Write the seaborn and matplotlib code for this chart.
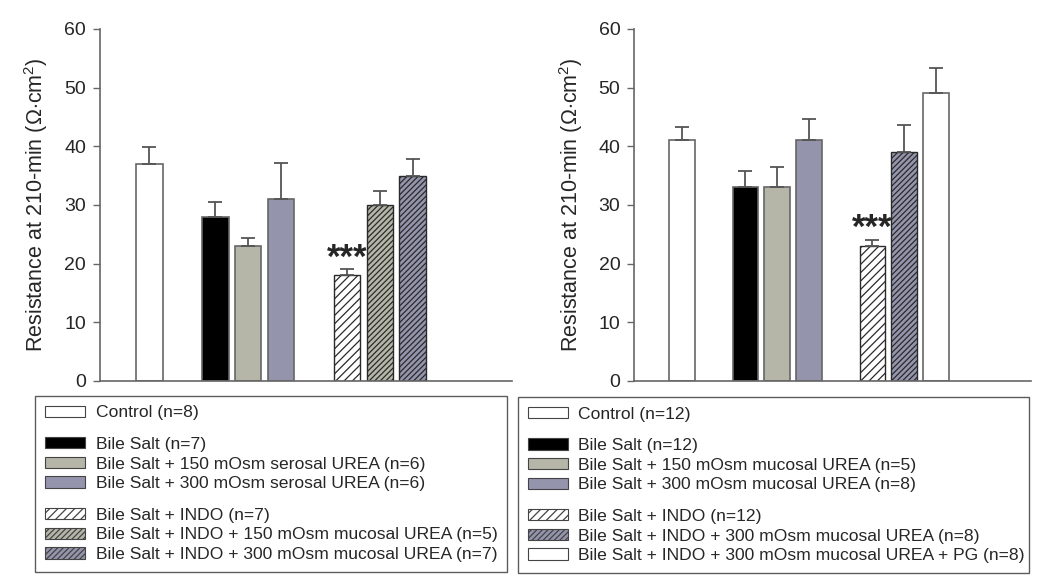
import matplotlib
matplotlib.use("Agg")
import matplotlib.pyplot as plt
from matplotlib.patches import Patch
import seaborn as sns
import pandas as pd

# --- data ---
pos = [0, 2, 3, 4, 6, 7, 8]

left_labels = ["Control (n=8)", "Bile Salt (n=7)",
               "Bile Salt + 150 mOsm serosal UREA (n=6)",
               "Bile Salt + 300 mOsm serosal UREA (n=6)",
               "Bile Salt + INDO (n=7)",
               "Bile Salt + INDO + 150 mOsm mucosal UREA (n=5)",
               "Bile Salt + INDO + 300 mOsm mucosal UREA (n=7)"]
left_vals = [37, 28, 23, 31, 18, 30, 35]
left_err = [2.9, 2.5, 1.4, 6.1, 1.0, 2.4, 2.9]

right_labels = ["Control (n=12)", "Bile Salt (n=12)",
                "Bile Salt + 150 mOsm mucosal UREA (n=5)",
                "Bile Salt + 300 mOsm mucosal UREA (n=8)",
                "Bile Salt + INDO (n=12)",
                "Bile Salt + INDO + 300 mOsm mucosal UREA (n=8)",
                "Bile Salt + INDO + 300 mOsm mucosal UREA + PG (n=8)"]
right_vals = [41, 33, 33, 41, 23, 39, 49]
right_err = [2.3, 2.8, 3.5, 3.6, 1.1, 4.7, 4.4]

WHITE, BLACK, GRAY, PURPLE = "#ffffff", "#000000", "#b5b6a8", "#9495ad"
left_colors = [WHITE, BLACK, GRAY, PURPLE, WHITE, GRAY, PURPLE]
left_hatch = [None, None, None, None, "////", "//////", "//////"]
right_colors = [WHITE, BLACK, GRAY, PURPLE, WHITE, PURPLE, WHITE]
right_hatch = [None, None, None, None, "////", "//////", None]

star_idx = 4

sns.set_style("white")
plt.rcParams['font.family'] = ['Liberation Sans', 'DejaVu Sans']
plt.rcParams['mathtext.fontset'] = 'custom'
plt.rcParams['mathtext.rm'] = 'Liberation Sans'
plt.rcParams['hatch.linewidth'] = 0.9

EDGE = "#666666"
fig = plt.figure(figsize=(10.5, 5.87), dpi=100)


def draw_panel(rect, vals, err, colors, hatches, labels, leg_box):
    ax = fig.add_axes(rect)
    df = pd.DataFrame({"pos": pos, "val": vals})
    sns.barplot(data=df, x="pos", y="val", native_scale=True, width=0.81,
                color="white", edgecolor=EDGE, linewidth=1.2, ax=ax)
    for p, c, h in zip(ax.patches, colors, hatches):
        p.set_facecolor(c)
        if h:
            p.set_hatch(h)
            p.set_edgecolor("#2a2a2a")
            p.set_linewidth(1.0)
    ax.errorbar(pos, vals, yerr=[[0] * len(err), err], fmt="none",
                ecolor="#555555", elinewidth=1.3, capsize=4.7, capthick=1.3)
    ax.text(pos[star_idx], vals[star_idx] + err[star_idx] - 0.9, "***",
            ha="center", va="bottom", fontsize=25, fontweight="bold")
    ax.set_xlim(-1.5, 11.0)
    ax.set_ylim(0, 60)
    ax.set_yticks(range(0, 61, 10))
    ax.set_xticks([])
    ax.set_xlabel("")
    ax.set_ylabel(r"Resistance at 210-min ($\Omega$$\cdot$cm$^2$)", fontsize=15.5,
                  labelpad=10)
    ax.tick_params(axis="y", length=5, width=1, color=EDGE, labelsize=14, pad=5,
                   left=True)
    for s in ["top", "right"]:
        ax.spines[s].set_visible(False)
    for s in ["left", "bottom"]:
        ax.spines[s].set_color(EDGE)
        ax.spines[s].set_linewidth(1.2)

    # legend, with small spacer rows between groups
    spacer = Patch(facecolor="none", edgecolor="none", label=" ")
    mk = lambda i: Patch(facecolor=colors[i], edgecolor="#444444", hatch=hatches[i],
                         linewidth=0.8, label=labels[i])
    handles = [mk(0), spacer, mk(1), mk(2), mk(3), spacer, mk(4), mk(5), mk(6)]
    leg = fig.legend(handles=handles, loc="upper left", bbox_to_anchor=leg_box,
                     mode="expand", fontsize=12.6, frameon=True, fancybox=False,
                     edgecolor="#333333", handlelength=2.3, handleheight=0.62,
                     handletextpad=0.6, labelspacing=0.27, borderpad=0.56,
                     borderaxespad=0.0)
    leg.get_frame().set_linewidth(1.0)
    # shrink the spacer rows so the group gaps are only half a row
    for col in leg._legend_handle_box.get_children():
        for item in col.get_children():
            da, ta = item.get_children()
            if ta._text.get_text() == " ":
                ta._text.set_fontsize(1)
                da.height = 5.0
                da.ydescent = 0.0
    return ax


draw_panel([0.0952, 0.351, 0.392, 0.5997], left_vals, left_err, left_colors,
           left_hatch, left_labels, (0.0333, 0.326, 0.4495, 0.0))
draw_panel([0.6041, 0.351, 0.378, 0.5997], right_vals, right_err, right_colors,
           right_hatch, right_labels, (0.4931, 0.324, 0.4869, 0.0))

fig.savefig("out.png", dpi=100)
